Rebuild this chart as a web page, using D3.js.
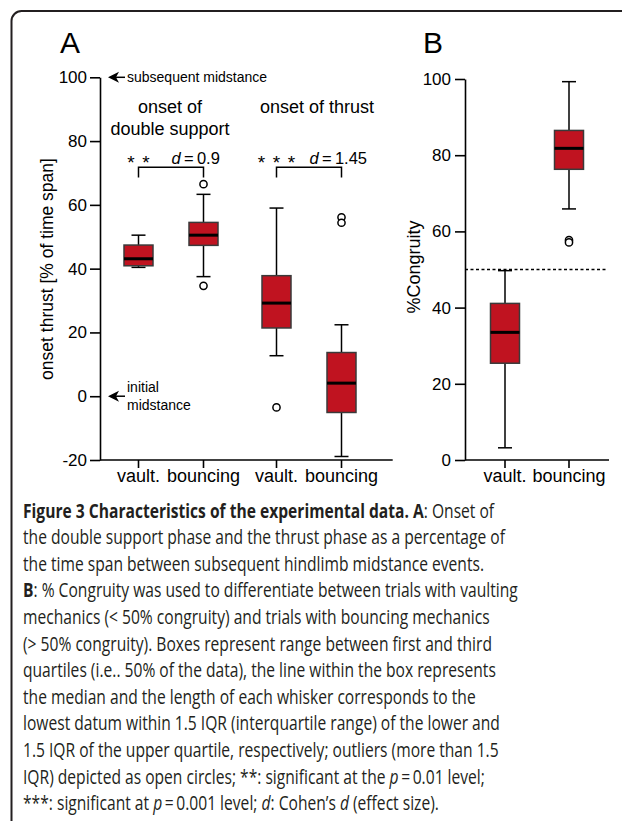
<!DOCTYPE html>
<html>
<head>
<meta charset="utf-8">
<style>
body { margin: 0; background: #fff; }
svg { display: block; }
</style>
</head>
<body>
<svg width="622" height="821"></svg>
<script src="https://d3js.org/d3.v7.min.js"></script>
<script>

// box stats: [low whisker, Q1, median, Q3, high whisker]
var groupsA = ["double support", "thrust"],
    conditions = ["vault.", "bouncing"];

var doubleSupportVault = [40.4, 40.9, 43.1, 47.4, 50.5],
    doubleSupportBouncing = [37.5, 47.3, 50.5, 54.5, 63.3],
    thrustVault = [12.7, 21.4, 29.2, 37.8, 59.0],
    thrustBouncing = [-18.9, -5.1, 4.1, 13.7, 22.4],
    congruityVault = [3.2, 25.4, 33.5, 41.1, 49.7],
    congruityBouncing = [65.9, 76.3, 81.8, 86.5, 99.3];

var outDoubleSupportVault = [],
    outDoubleSupportBouncing = [66.5, 34.6],
    outThrustVault = [-3.5],
    outThrustBouncing = [56.1, 54.4],
    outCongruityVault = [],
    outCongruityBouncing = [57.7, 57.1];

var groupTitles = [["onset of", "double support"], ["onset of thrust"]],
    significance = ["**", "***"],
    effectSize = ["0.9", "1.45"];

var ticksA = [-20, 0, 20, 40, 60, 80, 100],
    ticksB = [0, 20, 40, 60, 80, 100],
    threshold = 50;

var caption = [
  [["b", "Figure 3 Characteristics of the experimental data. A"], ["", ": Onset of"]],
  [["", "the double support phase and the thrust phase as a percentage of"]],
  [["", "the time span between subsequent hindlimb midstance events."]],
  [["b", "B"], ["", ": % Congruity was used to differentiate between trials with vaulting"]],
  [["", "mechanics (< 50% congruity) and trials with bouncing mechanics"]],
  [["", "(> 50% congruity). Boxes represent range between first and third"]],
  [["", "quartiles (i.e.. 50% of the data), the line within the box represents"]],
  [["", "the median and the length of each whisker corresponds to the"]],
  [["", "lowest datum within 1.5 IQR (interquartile range) of the lower and"]],
  [["", "1.5 IQR of the upper quartile, respectively; outliers (more than 1.5"]],
  [["", "IQR) depicted as open circles; **: significant at the "], ["i", "p"], ["", "\u2009=\u20090.01 level;"]],
  [["", "***: significant at "], ["i", "p"], ["", "\u2009=\u20090.001 level; "], ["i", "d"], ["", ": Cohen\u2019s "], ["i", "d"], ["", " (effect size)."]]
];

var boxesA = [
  {group: "double support", cond: "vault.", s: doubleSupportVault, out: outDoubleSupportVault},
  {group: "double support", cond: "bouncing", s: doubleSupportBouncing, out: outDoubleSupportBouncing},
  {group: "thrust", cond: "vault.", s: thrustVault, out: outThrustVault},
  {group: "thrust", cond: "bouncing", s: thrustBouncing, out: outThrustBouncing}
];
var boxesB = [
  {cond: "vault.", s: congruityVault, out: outCongruityVault},
  {cond: "bouncing", s: congruityBouncing, out: outCongruityBouncing}
];

var svg = d3.select("svg"),
    font = "'Liberation Sans', Arial, Helvetica, sans-serif",
    red = "#c01320",
    ink = "#231f20";

svg.attr("font-family", font);

// frame
svg.append("path")
    .attr("d", "M11.5,830V21A10,10 0 0 1 21.5,11H640")
    .attr("fill", "none")
    .attr("stroke", ink)
    .attr("stroke-width", 2);

// ---------- panel A ----------
var yA = d3.scaleLinear().domain([-20, 100]).range([460, 77.3]);
var gx = d3.scaleBand().domain(groupsA).range([102, 378]);
var cx = d3.scalePoint().domain(conditions).range([-32.5, 32.5]);
function xA(d) { return gx(d.group) + gx.bandwidth() / 2 + cx(d.cond); }

var gA = svg.append("g");

gA.append("g")
    .attr("transform", "translate(100,0)")
    .call(d3.axisLeft(yA).tickValues(ticksA).tickFormat(String)
      .tickSize(10).tickSizeOuter(0).tickPadding(3))
    .call(styleAxis);

var xAxisA = gA.append("g").attr("transform", "translate(0,460)");
xAxisA.append("line")
    .attr("x1", 100).attr("x2", 392.7)
    .attr("stroke", "#000").attr("stroke-width", 1.6);
xAxisA.selectAll(".tk")
    .data(boxesA)
  .enter().append("g")
    .attr("transform", function(d) { return "translate(" + xA(d) + ",0)"; })
    .each(function(d) {
      var t = d3.select(this);
      t.append("line").attr("y2", 8).attr("stroke", "#000").attr("stroke-width", 1.6);
      t.append("text").attr("y", 9).attr("dy", "0.71em")
          .attr("text-anchor", "middle").attr("font-size", 18).text(d.cond);
    });

drawBoxes(gA, boxesA, xA, yA);

// group titles
groupTitles.forEach(function(lines, i) {
  var x = gx(groupsA[i]) + gx.bandwidth() / 2 + (i === 1 ? 8 : -1);
  lines.forEach(function(l, j) {
    gA.append("text")
        .attr("x", x).attr("y", 113 + j * 21.5)
        .attr("text-anchor", "middle")
        .attr("font-size", 18)
        .text(l);
  });
});

// significance brackets
groupsA.forEach(function(g, i) {
  var x1 = gx(g) + gx.bandwidth() / 2 + cx("vault."),
      x2 = gx(g) + gx.bandwidth() / 2 + cx("bouncing"),
      top = yA(71.8), bot = yA(68.6);
  gA.append("path")
      .attr("d", "M" + x1 + "," + bot + "V" + top + "H" + x2 + "V" + bot)
      .attr("fill", "none").attr("stroke", "#000").attr("stroke-width", 1.5);
  var n = significance[i].length;
  significance[i].split("").forEach(function(s, k) {
    gA.append("text")
        .attr("x", x1 + (k - (n - 1) / 2) * 15)
        .attr("y", 169)
        .attr("text-anchor", "middle")
        .attr("font-size", 19)
        .text(s);
  });
  var t = gA.append("text")
      .attr("x", x1 + 33).attr("y", 163.5)
      .attr("font-size", 16.5);
  t.append("tspan").attr("font-style", "italic").text("d");
  t.append("tspan").text("\u2009=\u2009" + effectSize[i]);
});

// midstance arrows
function arrow(g, y) {
  g.append("path")
      .attr("d", "M108," + y + "L119," + (y - 5.5) + "L116," + y + "L119," + (y + 5.5) + "Z")
      .attr("fill", "#000");
  g.append("line")
      .attr("x1", 115).attr("x2", 125).attr("y1", y).attr("y2", y)
      .attr("stroke", "#000").attr("stroke-width", 1.5);
}
arrow(gA, yA(100));
arrow(gA, yA(0));
gA.append("text").attr("x", 127).attr("y", yA(100) + 5)
    .attr("font-size", 14).text("subsequent midstance");
gA.append("text").attr("x", 127).attr("y", 391.5)
    .attr("font-size", 14).text("initial");
gA.append("text").attr("x", 127).attr("y", 410)
    .attr("font-size", 14).text("midstance");

gA.append("text")
    .attr("transform", "translate(53,269) rotate(-90)")
    .attr("text-anchor", "middle")
    .attr("font-size", 17.5)
    .text("onset thrust [% of time span]");

svg.append("text").attr("x", 60).attr("y", 53.3)
    .attr("font-size", 30).text("A");

// ---------- panel B ----------
var yB = d3.scaleLinear().domain([0, 100]).range([460, 79]);
var xBs = d3.scalePoint().domain(conditions).range([505, 569]);
function xB(d) { return xBs(d.cond); }

var gB = svg.append("g");

gB.append("line")
    .attr("x1", 465).attr("x2", 607)
    .attr("y1", yB(threshold)).attr("y2", yB(threshold))
    .attr("stroke", "#000").attr("stroke-width", 1.5)
    .attr("stroke-dasharray", "3,2.5");

gB.append("g")
    .attr("transform", "translate(465,0)")
    .call(d3.axisLeft(yB).tickValues(ticksB).tickFormat(String)
      .tickSize(10).tickSizeOuter(0).tickPadding(4))
    .call(styleAxis);

var xAxisB = gB.append("g").attr("transform", "translate(0,460)");
xAxisB.append("line")
    .attr("x1", 465).attr("x2", 609)
    .attr("stroke", "#000").attr("stroke-width", 1.6);
xAxisB.selectAll(".tk")
    .data(boxesB)
  .enter().append("g")
    .attr("transform", function(d) { return "translate(" + xB(d) + ",0)"; })
    .each(function(d) {
      var t = d3.select(this);
      t.append("line").attr("y2", 8).attr("stroke", "#000").attr("stroke-width", 1.6);
      t.append("text").attr("y", 9).attr("dy", "0.71em")
          .attr("text-anchor", "middle").attr("font-size", 18).text(d.cond);
    });

drawBoxes(gB, boxesB, xB, yB);

gB.append("text")
    .attr("transform", "translate(419.5,267) rotate(-90)")
    .attr("text-anchor", "middle")
    .attr("font-size", 18)
    .text("%Congruity");

svg.append("text").attr("x", 423).attr("y", 53.3)
    .attr("font-size", 30).text("B");

// ---------- caption ----------
var cap = svg.append("g")
    .attr("font-family", "'Open Sans', 'Noto Sans', sans-serif")
    .attr("fill", ink);

var lines = cap.selectAll("text")
    .data(caption)
  .enter().append("text")
    .attr("x", 0)
    .attr("y", function(d, i) { return 517.7 + i * 26.6; })
    .attr("font-size", 19.5);

lines.selectAll("tspan")
    .data(function(d) { return d; })
  .enter().append("tspan")
    .attr("font-weight", function(d) { return d[0] === "b" ? "bold" : null; })
    .attr("font-style", function(d) { return d[0] === "i" ? "italic" : null; })
    .text(function(d) { return d[1]; });

// squeeze the caption horizontally to the widest line of the reference
var w = lines.nodes()[3].getComputedTextLength();
cap.attr("transform", "translate(23,0) scale(" + (495 / w) + ",1)");

function styleAxis(g) {
  g.attr("font-family", null).attr("font-size", null);
  g.select(".domain").attr("stroke-width", 1.6);
  g.selectAll(".tick line").attr("stroke-width", 1.6);
  g.selectAll(".tick text").attr("fill", "#000").attr("font-size", 17);
}

function drawBoxes(g, data, x, y) {
  var bw = 29, cap = 7;
  var b = g.selectAll(".box")
      .data(data)
    .enter().append("g");

  b.append("line")
      .attr("x1", x).attr("x2", x)
      .attr("y1", function(d) { return y(d.s[0]); })
      .attr("y2", function(d) { return y(d.s[4]); })
      .attr("stroke", "#000").attr("stroke-width", 1.5);

  b.selectAll(".cap")
      .data(function(d) { return [{x: x(d), v: d.s[0]}, {x: x(d), v: d.s[4]}]; })
    .enter().append("line")
      .attr("x1", function(d) { return d.x - cap; })
      .attr("x2", function(d) { return d.x + cap; })
      .attr("y1", function(d) { return y(d.v); })
      .attr("y2", function(d) { return y(d.v); })
      .attr("stroke", "#000").attr("stroke-width", 1.5);

  b.append("rect")
      .attr("x", function(d) { return x(d) - bw / 2; })
      .attr("width", bw)
      .attr("y", function(d) { return y(d.s[3]); })
      .attr("height", function(d) { return y(d.s[1]) - y(d.s[3]); })
      .attr("fill", red)
      .attr("stroke", "#3a3a3a")
      .attr("stroke-width", 1.5);

  b.append("line")
      .attr("x1", function(d) { return x(d) - bw / 2; })
      .attr("x2", function(d) { return x(d) + bw / 2; })
      .attr("y1", function(d) { return y(d.s[2]); })
      .attr("y2", function(d) { return y(d.s[2]); })
      .attr("stroke", "#000").attr("stroke-width", 3);

  b.selectAll("circle")
      .data(function(d) { return d.out.map(function(v) { return {x: x(d), v: v}; }); })
    .enter().append("circle")
      .attr("cx", function(d) { return d.x; })
      .attr("cy", function(d) { return y(d.v); })
      .attr("r", 3.6)
      .attr("fill", "#fff")
      .attr("stroke", "#000")
      .attr("stroke-width", 1.5);
}

</script>
</body>
</html>
